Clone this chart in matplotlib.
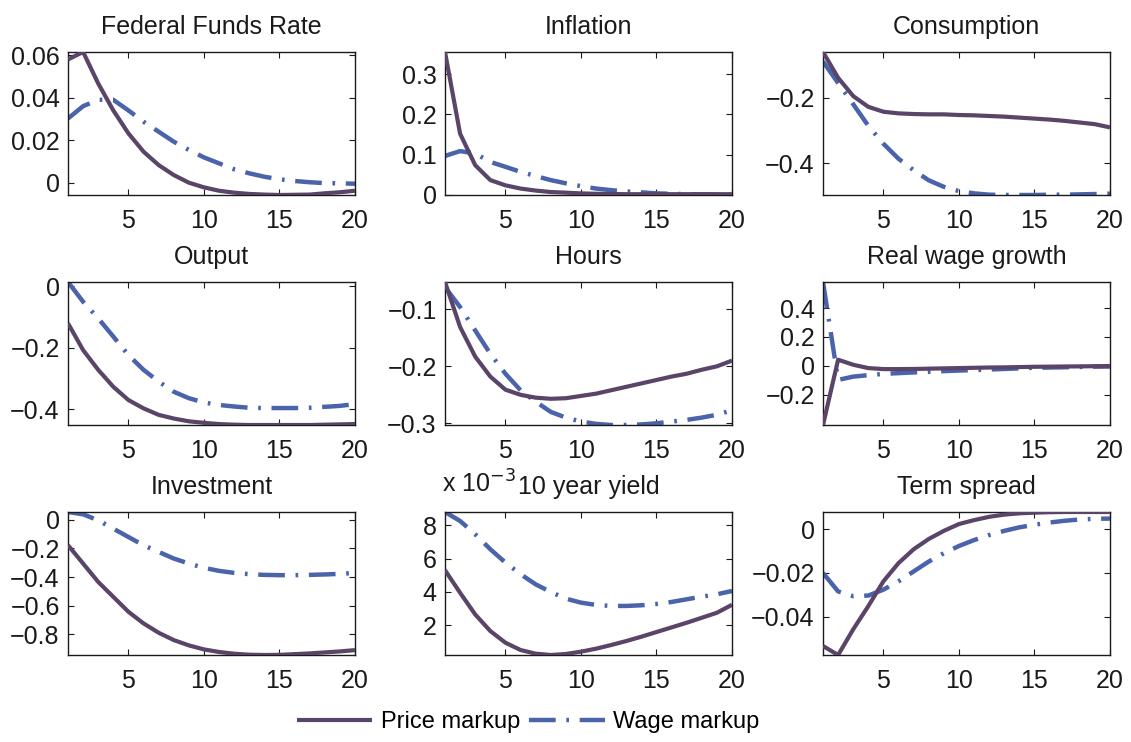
import matplotlib
matplotlib.use("Agg")
import matplotlib.pyplot as plt
from matplotlib.ticker import FuncFormatter
import numpy as np

plt.rcParams['font.family'] = ['Liberation Sans', 'DejaVu Sans']

horizon = list(range(1, 21))

titles = ["Federal Funds Rate", "Inflation", "Consumption",
          "Output", "Hours", "Real wage growth",
          "Investment", "10 year yield", "Term spread"]

ffr_price = [0.058, 0.0615, 0.0467, 0.034, 0.0232, 0.0146, 0.0083, 0.0036, 0.0, -0.0022,
             -0.0038, -0.0047, -0.0053, -0.0056, -0.0058, -0.0057, -0.0056, -0.005, -0.0045, -0.0038]
ffr_wage = [0.0302, 0.036, 0.039, 0.039, 0.034, 0.0287, 0.024, 0.0193, 0.0154, 0.0119,
            0.0091, 0.0063, 0.0044, 0.0028, 0.0016, 0.0008, 0.0002, -0.0002, -0.0003, -0.0005]

infl_price = [0.355, 0.152, 0.074, 0.037, 0.024, 0.016, 0.011, 0.0074, 0.0058, 0.004,
              0.003, 0.0025, 0.002, 0.002, 0.002, 0.002, 0.002, 0.002, 0.002, 0.002]
infl_wage = [0.097, 0.109, 0.103, 0.082, 0.07, 0.0575, 0.047, 0.037, 0.029, 0.022,
             0.016, 0.012, 0.009, 0.0066, 0.004, 0.003, 0.002, 0.001, 0.0005, 0.0]

cons_price = [-0.06, -0.139, -0.195, -0.228, -0.243, -0.248, -0.25, -0.251, -0.251, -0.253,
              -0.254, -0.256, -0.258, -0.261, -0.264, -0.267, -0.271, -0.276, -0.281, -0.291]
cons_wage = [-0.089, -0.155, -0.22, -0.286, -0.341, -0.387, -0.422, -0.453, -0.473, -0.486,
             -0.493, -0.497, -0.498, -0.498, -0.498, -0.497, -0.497, -0.496, -0.495, -0.494]

out_price = [-0.121, -0.208, -0.272, -0.327, -0.37, -0.397, -0.418, -0.43, -0.439, -0.444,
             -0.448, -0.45, -0.451, -0.451, -0.451, -0.451, -0.451, -0.45, -0.449, -0.448]
out_wage = [0.013, -0.051, -0.105, -0.164, -0.224, -0.272, -0.31, -0.343, -0.364, -0.378,
            -0.386, -0.391, -0.395, -0.396, -0.396, -0.396, -0.395, -0.392, -0.389, -0.383]

hours_price = [-0.052, -0.131, -0.183, -0.218, -0.241, -0.25, -0.255, -0.257, -0.256, -0.252,
               -0.248, -0.242, -0.236, -0.23, -0.224, -0.218, -0.213, -0.206, -0.2, -0.19]
hours_wage = [-0.061, -0.096, -0.137, -0.178, -0.213, -0.242, -0.262, -0.28, -0.29, -0.297,
              -0.301, -0.303, -0.303, -0.302, -0.3, -0.297, -0.294, -0.29, -0.285, -0.277]

rwg_price = [-0.41, 0.042, 0.007, -0.016, -0.023, -0.023, -0.022, -0.02, -0.018, -0.016,
             -0.014, -0.012, -0.011, -0.009, -0.007, -0.006, -0.005, -0.004, -0.003, -0.002]
rwg_wage = [0.58, -0.098, -0.075, -0.065, -0.056, -0.051, -0.046, -0.042, -0.037, -0.033,
            -0.03, -0.026, -0.022, -0.018, -0.014, -0.012, -0.01, -0.008, -0.006, -0.005]

inv_price = [-0.178, -0.306, -0.434, -0.538, -0.642, -0.723, -0.788, -0.839, -0.876, -0.904,
             -0.922, -0.934, -0.941, -0.943, -0.942, -0.937, -0.932, -0.925, -0.918, -0.909]
inv_wage = [0.053, 0.037, -0.005, -0.063, -0.121, -0.179, -0.225, -0.271, -0.306, -0.336,
            -0.357, -0.371, -0.38, -0.385, -0.387, -0.387, -0.385, -0.382, -0.378, -0.371]

# 10 year yield, in units of 1e-3
yld_price_e3 = [5.3, 3.94, 2.64, 1.64, 0.94, 0.5, 0.28, 0.2, 0.26, 0.4,
                0.58, 0.8, 1.04, 1.3, 1.58, 1.86, 2.14, 2.44, 2.74, 3.22]
yld_wage_e3 = [8.8, 8.26, 7.46, 6.56, 5.76, 5.06, 4.45, 3.99, 3.59, 3.35,
               3.21, 3.15, 3.15, 3.19, 3.27, 3.39, 3.55, 3.71, 3.85, 4.05]

ts_price = [-0.0533, -0.0574, -0.0457, -0.0351, -0.0238, -0.0155, -0.0092, -0.0045, -0.0008, 0.0023,
            0.0041, 0.0056, 0.0066, 0.0072, 0.0075, 0.0077, 0.0078, 0.0078, 0.0078, 0.0078]
ts_wage = [-0.02, -0.0284, -0.0306, -0.0303, -0.0276, -0.0238, -0.0193, -0.0148, -0.011, -0.0077,
           -0.005, -0.0027, -0.0008, 0.0008, 0.002, 0.003, 0.0038, 0.0044, 0.0047, 0.0048]

yticks = [[0, 0.02, 0.04, 0.06], [0, 0.1, 0.2, 0.3], [-0.4, -0.2],
          [-0.4, -0.2, 0], [-0.3, -0.2, -0.1], [-0.2, 0, 0.2, 0.4],
          [-0.8, -0.6, -0.4, -0.2, 0], [2e-3, 4e-3, 6e-3, 8e-3], [-0.04, -0.02, 0]]
xticks = [5, 10, 15, 20]

price_series = [ffr_price, infl_price, cons_price, out_price, hours_price, rwg_price,
                inv_price, [v * 1e-3 for v in yld_price_e3], ts_price]
wage_series = [ffr_wage, infl_wage, cons_wage, out_wage, hours_wage, rwg_wage,
               inv_wage, [v * 1e-3 for v in yld_wage_e3], ts_wage]

price_color = '#5a4468'
wage_color = '#4a63ab'
wage_ls = (0, (6, 2.4, 0.6, 2.4))

fig = plt.figure(figsize=(11.31, 7.42), dpi=100)
W, H = 1131, 742
lefts = [68, 445, 823]
tops = [52, 282, 512]
aw, ah = 287, 143

def fmt(v, pos):
    s = "%g" % round(v, 6)
    return s.replace('-', '\u2212')

def fmt_e3(v, pos):
    s = "%g" % round(v * 1e3, 6)
    return s.replace('-', '\u2212')

TICK_FS = 18
TITLE_FS = 18
TITLE_PAD = 13

axes = []
for i in range(9):
    r, c = divmod(i, 3)
    ax = fig.add_axes([lefts[c] / W, 1 - (tops[r] + ah) / H, aw / W, ah / H])
    p = price_series[i]
    w = wage_series[i]
    lp, = ax.plot(horizon, p, color=price_color, lw=3.0, solid_capstyle='butt', zorder=3)
    lw_, = ax.plot(horizon, w, color=wage_color, lw=3.2, linestyle=wage_ls, zorder=2)
    lo = min(min(p), min(w))
    hi = max(max(p), max(w))
    ax.set_xlim(1, 20)
    ax.set_ylim(lo, hi)
    ax.set_xticks(xticks)
    ax.set_yticks(yticks[i])
    ax.yaxis.set_major_formatter(FuncFormatter(fmt_e3 if i == 7 else fmt))
    ax.tick_params(direction='in', length=4, width=0.8, top=True, right=True,
                   labelsize=TICK_FS, colors='#1a1a1a')
    ax.tick_params(axis='x', pad=10)
    ax.tick_params(axis='y', pad=6)
    for s in ax.spines.values():
        s.set_linewidth(1.0)
        s.set_color('#1a1a1a')
    ax.set_title(titles[i], fontsize=TITLE_FS, pad=TITLE_PAD, color='#1a1a1a')
    axes.append(ax)
    if i == 0:
        handles = [lp, lw_]

axes[7].text(-0.01, 1.0 + 19 / ah, r'x 10$^{-3}$', transform=axes[7].transAxes,
             fontsize=TITLE_FS, ha='left', va='baseline', color='#1a1a1a')

fig.legend(handles, ["Price markup", "Wage markup"], loc='center',
           bbox_to_anchor=(528 / W, 1 - 722 / H), ncol=2, frameon=False,
           fontsize=17, handlelength=3.2, handletextpad=0.35, columnspacing=0.4)

fig.savefig("out.png", dpi=100)
